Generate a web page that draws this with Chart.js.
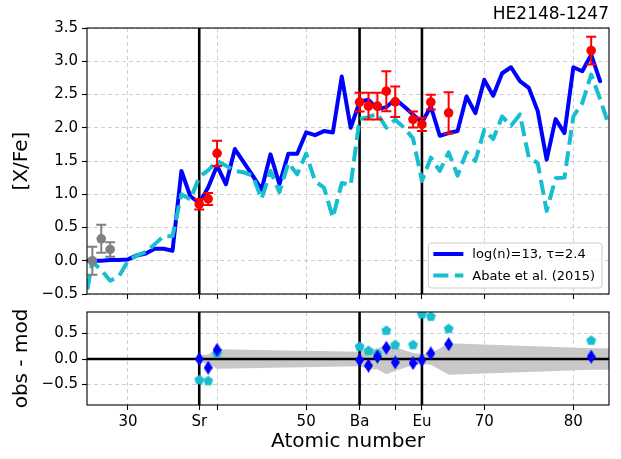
<!DOCTYPE html>
<html><head><meta charset="utf-8">
<script src="https://cdn.jsdelivr.net/npm/chart.js@4.4.1/dist/chart.umd.min.js"></script>
<style>
html,body{margin:0;padding:0;background:#fff;}
#wrap{position:relative;width:621px;height:459px;overflow:hidden;background:#fff;}
canvas{position:absolute;left:0;}
#c1{top:0;width:621px;height:310px;}
#c2{top:300px;width:621px;height:159px;}
</style></head><body>
<div id="wrap"><canvas id="c1" width="621" height="310"></canvas><canvas id="c2" width="621" height="159"></canvas></div>
<script>
// ---------------- data ----------------
const modelZ = [25,26,27,28,29,30,31,32,33,34,35,36,37,38,39,40,41,42,43,44,45,46,47,48,49,50,51,52,53,54,
                55,56,57,58,59,60,61,62,63,64,65,66,67,68,69,70,71,72,73,74,75,76,77,78,79,80,81,82,83,84];
const blueModel = [0.00,0.00,0.00,0.01,0.01,0.02,0.08,0.11,0.18,0.18,0.15,1.35,0.97,0.87,1.10,1.43,1.15,1.68,1.48,1.28,
                   1.07,1.60,1.15,1.61,1.61,1.93,1.89,1.95,1.93,2.77,2.00,2.39,2.42,2.28,2.31,2.43,2.32,2.20,2.08,2.32,
                   1.88,1.92,1.95,2.47,2.22,2.72,2.48,2.82,2.91,2.70,2.60,2.25,1.52,2.13,1.92,2.91,2.85,3.10,2.70,null];
const abateModel = [-0.75,-0.02,-0.14,-0.30,-0.23,0.00,0.08,0.13,0.25,0.37,0.37,1.00,0.92,1.26,1.36,1.50,1.43,1.35,1.33,1.28,
                    0.93,1.35,1.03,1.47,1.30,1.61,1.20,1.10,0.65,1.17,1.14,2.13,2.16,2.21,2.00,2.12,2.00,1.84,1.20,1.55,
                    1.35,1.63,1.28,1.63,1.50,1.97,1.83,2.17,2.03,2.20,1.55,1.47,0.75,1.24,1.25,2.17,2.37,2.80,2.43,2.03];
const obsZ   = [38,39,40,56,57,58,59,60,62,63,64,66,82];
const obsVal = [0.85,0.93,1.615,2.385,2.325,2.325,2.55,2.39,2.125,2.05,2.385,2.225,3.16];
const obsErr = [0.08,0.09,0.19,0.14,0.20,0.20,0.30,0.23,0.12,0.10,0.11,0.31,0.21];
const ironZ   = [26,27,28];
const ironVal = [0.00,0.33,0.17];
const ironErr = [0.21,0.21,0.11];
const residBlue  = [0.00,-0.17,0.18,-0.02,-0.13,0.045,0.22,-0.065,-0.08,-0.02,0.11,0.29,0.045];
const residAbate = [-0.41,-0.43,0.11,0.24,0.16,0.10,0.555,0.275,0.275,0.876,0.83,0.59,0.36];
const bandZ   = [38,39,40,56,57,58,59,60,62,63,64,66,82,84];
const bandErr = [0.08,0.09,0.19,0.14,0.20,0.20,0.30,0.23,0.12,0.10,0.11,0.31,0.21,0.21];
const markerZ = [38,56,63];
const xTickValues = [30,38,40,50,56,60,63,70,80];
const xTickLabels = ['30','Sr','','50','Ba','','Eu','70','80'];
const yTicksTop = [-0.5,0,0.5,1,1.5,2,2.5,3,3.5];
const yTicksBottom = [-0.5,0,0.5];
const seriesNames = ['log(n)=13, \u03c4=2.4','Abate et al. (2015)'];
const starName = 'HE2148-1247';

// ---------------- style ----------------
const BLUE = '#0000ff', CYAN = '#17becf', RED = '#ff0000', GRAY = '#808080';
const GRID = 'rgba(176,176,176,0.6)';
const FONT = "'DejaVu Sans', sans-serif";
Chart.defaults.font.family = FONT;
Chart.defaults.color = '#000';

const pts = (xs, ys) => xs.map((x, i) => ({x: x, y: ys[i]}));
const fmt = v => { const s = Number(v).toFixed(1); return s === '-0.0' ? '0.0' : s.replace('-', '\u2212'); };
const zeroPad = s => { s.paddingLeft = 0; s.paddingRight = 0; s.paddingTop = 0; s.paddingBottom = 0; };

function makeDiamond(color, w, h) {
  const c = document.createElement('canvas'); c.width = w; c.height = h;
  const g = c.getContext('2d'); g.fillStyle = color; g.beginPath();
  g.moveTo(w/2, 0); g.lineTo(w, h/2); g.lineTo(w/2, h); g.lineTo(0, h/2); g.closePath(); g.fill();
  return c;
}
function makePentagon(color, r) {
  const n = Math.ceil(2*r + 2); const c = document.createElement('canvas'); c.width = n; c.height = n;
  const g = c.getContext('2d'); g.fillStyle = color; g.beginPath();
  for (let k = 0; k < 5; k++) {
    const a = -Math.PI/2 + k*2*Math.PI/5;
    const px = n/2 + r*Math.cos(a), py = n/2 + r*Math.sin(a);
    if (k === 0) g.moveTo(px, py); else g.lineTo(px, py);
  }
  g.closePath(); g.fill();
  return c;
}

const errorBarPlugin = {
  id: 'errbars',
  beforeDatasetDraw(chart, args) {
    const ds = chart.data.datasets[args.index];
    if (!ds.errors) return;
    const {ctx, scales: {x, y}} = chart;
    ctx.save(); ctx.strokeStyle = ds.errColor; ctx.lineWidth = 2;
    ds.data.forEach((p, i) => {
      const e = ds.errors[i];
      const px = x.getPixelForValue(p.x), y1 = y.getPixelForValue(p.y - e), y2 = y.getPixelForValue(p.y + e);
      const cap = 5;
      ctx.beginPath();
      ctx.moveTo(px, y1); ctx.lineTo(px, y2);
      ctx.moveTo(px - cap, y1); ctx.lineTo(px + cap, y1);
      ctx.moveTo(px - cap, y2); ctx.lineTo(px + cap, y2);
      ctx.stroke();
    });
    ctx.restore();
  }
};
function drawRef(chart, xs, ys) {
  const {ctx, chartArea: a, scales: {x, y}} = chart;
  ctx.save(); ctx.beginPath(); ctx.rect(a.left, a.top, a.right - a.left, a.bottom - a.top); ctx.clip();
  ctx.strokeStyle = '#000'; ctx.lineWidth = 2.6;
  xs.forEach(v => { const px = x.getPixelForValue(v); ctx.beginPath(); ctx.moveTo(px, a.top); ctx.lineTo(px, a.bottom); ctx.stroke(); });
  ys.forEach(v => { const py = y.getPixelForValue(v); ctx.beginPath(); ctx.moveTo(a.left, py); ctx.lineTo(a.right, py); ctx.stroke(); });
  ctx.restore();
}
const framePlugin = {
  id: 'frame',
  afterDatasetsDraw(chart) {
    const {ctx, chartArea: a} = chart;
    ctx.save(); ctx.strokeStyle = '#000'; ctx.lineWidth = 1.1;
    ctx.strokeRect(a.left, a.top, a.right - a.left, a.bottom - a.top);
    ctx.restore();
  }
};

function xScale(showLabels, height, title) {
  return {
    type: 'linear', min: 25.4, max: 84,
    afterBuildTicks: s => { s.ticks = xTickValues.map(v => ({value: v})); },
    ticks: {display: showLabels, autoSkip: false, maxRotation: 0, font: {size: 15}, padding: 3,
            callback: v => xTickLabels[xTickValues.indexOf(v)]},
    grid: {color: GRID, lineWidth: 1, tickLength: 5, tickColor: '#000', tickWidth: 1.1, drawTicks: true},
    border: {display: false, dash: [4, 3]},
    title: title ? {display: true, text: title, font: {size: 20, lineHeight: 1.2}, padding: {top: 0, bottom: 5}} : {display: false},
    afterFit: s => { s.height = height; zeroPad(s); }
  };
}
function yScale(min, max, ticks, title) {
  return {
    type: 'linear', min: min, max: max,
    afterBuildTicks: s => { s.ticks = ticks.map(v => ({value: v})); },
    ticks: {font: {size: 15}, padding: 4, callback: fmt},
    grid: {color: GRID, lineWidth: 1, tickLength: 5, tickColor: '#000', tickWidth: 1.1},
    border: {display: false, dash: [4, 3]},
    title: {display: true, text: title, font: {size: 20, lineHeight: 1.2}, padding: {top: 10, bottom: 0}},
    afterFit: s => { s.width = 87; zeroPad(s); }
  };
}

// ---------------- top panel ----------------
const legendPlugin = {
  id: 'customLegend',
  afterDraw(chart) {
    const {ctx, chartArea: a} = chart;
    const items = chart.data.datasets.filter(d => d.legendRank !== undefined).sort((p, q) => p.legendRank - q.legendRank);
    ctx.save();
    ctx.font = '13px ' + FONT;
    const tw = Math.max(...items.map(d => ctx.measureText(d.label).width));
    const w = 44 + tw + 7, h = 45;
    const right = a.right - 7, bottom = a.bottom - 6;
    const left = right - w, top = bottom - h;
    ctx.beginPath(); ctx.roundRect(left, top, w, h, 3);
    ctx.fillStyle = 'rgba(255,255,255,0.8)'; ctx.fill();
    ctx.strokeStyle = '#cccccc'; ctx.lineWidth = 1; ctx.stroke();
    items.forEach((d, i) => {
      const cy = top + 11 + i*21.4;
      ctx.strokeStyle = d.borderColor; ctx.lineWidth = d.borderWidth;
      ctx.setLineDash(d.borderDash || []);
      ctx.beginPath(); ctx.moveTo(left + 5, cy); ctx.lineTo(left + 35, cy); ctx.stroke();
      ctx.setLineDash([]);
      ctx.fillStyle = '#000'; ctx.textBaseline = 'middle'; ctx.textAlign = 'left';
      ctx.fillText(d.label, left + 44, cy + 1);
    });
    ctx.restore();
  }
};

new Chart(document.getElementById('c1'), {
  type: 'scatter',
  data: {
    datasets: [
      {type: 'scatter', label: 'obs', data: pts(obsZ, obsVal), errors: obsErr, errColor: RED,
       pointRadius: 4.8, pointBackgroundColor: RED, pointBorderWidth: 0, order: 0},
      {type: 'scatter', label: 'iron', data: pts(ironZ, ironVal), errors: ironErr, errColor: GRAY,
       pointRadius: 4.8, pointBackgroundColor: GRAY, pointBorderWidth: 0, order: 1},
      {type: 'line', label: seriesNames[1], legendRank: 1, data: pts(modelZ, abateModel), borderColor: CYAN, borderWidth: 4,
       borderDash: [15, 6.5], pointRadius: 0, fill: false, tension: 0, borderJoinStyle: 'round', clip: 0, order: 2},
      {type: 'line', label: seriesNames[0], legendRank: 0, data: pts(modelZ, blueModel), borderColor: BLUE, borderWidth: 4,
       pointRadius: 0, fill: false, tension: 0, borderJoinStyle: 'round', borderCapStyle: 'round', clip: 0, order: 3}
    ]
  },
  options: {
    responsive: false, animation: false, devicePixelRatio: 1,
    layout: {padding: {left: 0, right: 12, top: 0, bottom: 0}},
    plugins: {
      legend: {display: false}, tooltip: {enabled: false},
      title: {display: true, text: starName, align: 'end', color: '#000',
              font: {size: 17, weight: 'normal', lineHeight: 1.2}, padding: {top: 4, bottom: 3.6}}
    },
    scales: {x: xScale(false, 16, null), y: yScale(-0.5, 3.5, yTicksTop, '[X/Fe]')}
  },
  plugins: [errorBarPlugin, framePlugin, legendPlugin,
            {id: 'refTop', beforeDatasetsDraw(chart) { drawRef(chart, markerZ, []); }}]
});

// ---------------- bottom panel ----------------
new Chart(document.getElementById('c2'), {
  type: 'scatter',
  data: {
    datasets: [
      {type: 'scatter', label: 'resid model', data: pts(obsZ, residBlue), pointStyle: makeDiamond(BLUE, 9, 14),
       pointRadius: 6, order: 0},
      {type: 'scatter', label: 'resid Abate', data: pts(obsZ, residAbate), pointStyle: makePentagon(CYAN, 5.2),
       pointRadius: 6, clip: 0, order: 1},
      {type: 'line', label: 'band up', data: pts(bandZ, bandErr), borderColor: 'rgba(0,0,0,0)', borderWidth: 1,
       pointRadius: 0, backgroundColor: '#c8c8c8', fill: '+1', tension: 0, order: 5},
      {type: 'line', label: 'band low', data: pts(bandZ, bandErr.map(e => -e)), borderColor: 'rgba(0,0,0,0)', borderWidth: 1,
       pointRadius: 0, fill: false, tension: 0, order: 4, refAfter: true}
    ]
  },
  options: {
    responsive: false, animation: false, devicePixelRatio: 1,
    layout: {padding: {left: 0, right: 12, top: 12, bottom: 0}},
    plugins: {legend: {display: false}, tooltip: {enabled: false}},
    scales: {x: xScale(true, 54, 'Atomic number'), y: yScale(-0.9, 0.92, yTicksBottom, 'obs - mod')}
  },
  plugins: [framePlugin,
            {id: 'refBottom', afterDatasetDraw(chart, args) {
               if (chart.data.datasets[args.index].refAfter) drawRef(chart, markerZ, [0]);
             }}]
});
</script>
</body></html>
